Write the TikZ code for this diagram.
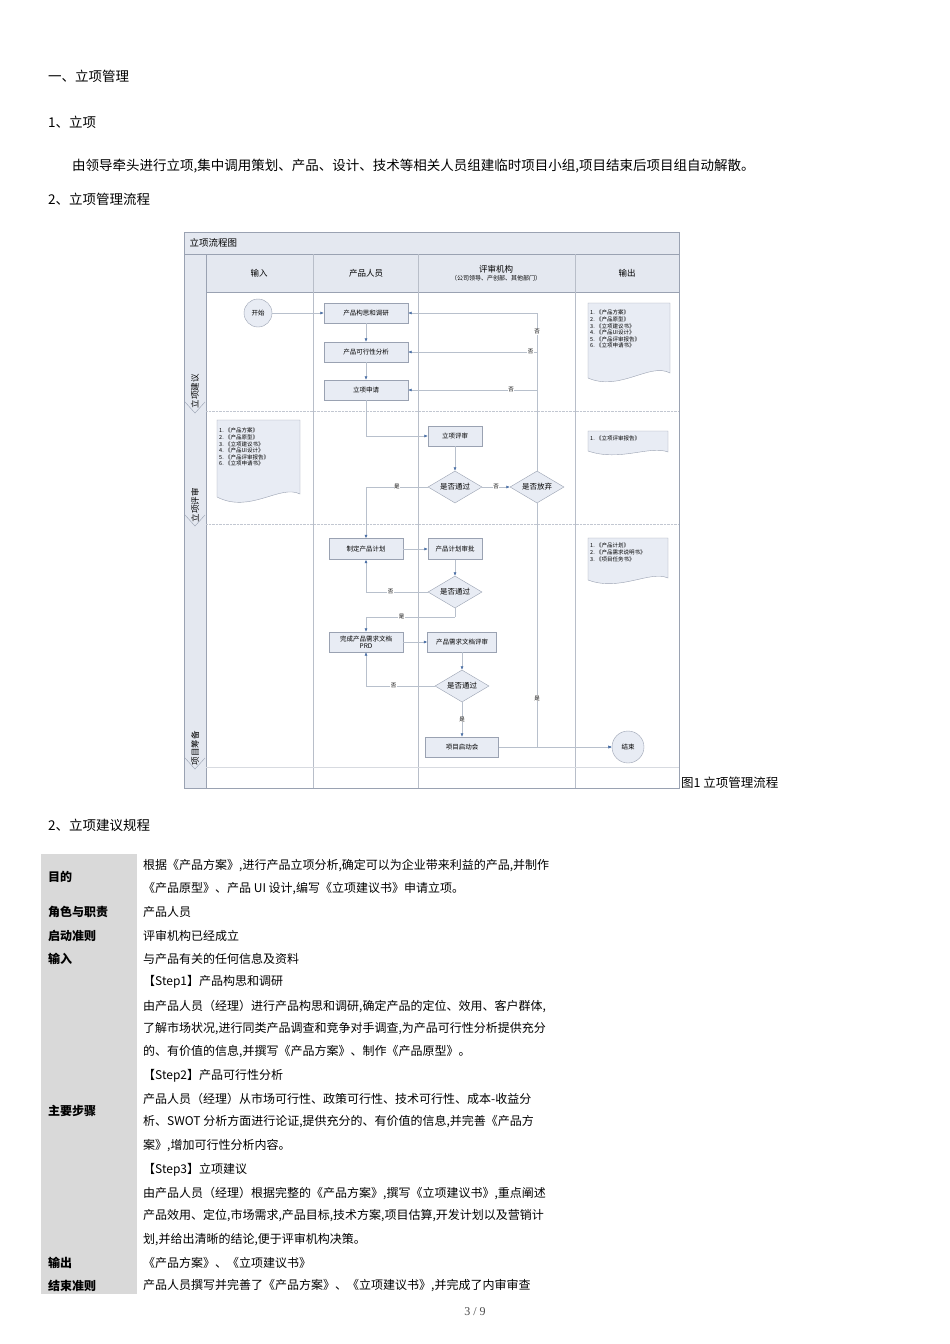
\documentclass[tikz,border=0pt]{standalone}
\usepackage{fontspec}
\setmainfont{Noto Sans CJK SC}
\newfontfamily\pgfont{Liberation Serif}
\usetikzlibrary{arrows.meta,shapes.geometric}
\definecolor{boxfill}{HTML}{E8ECF4}
\definecolor{boxdraw}{HTML}{9AA2B2}
\definecolor{lanefill}{HTML}{E4E8F0}
\definecolor{edgec}{HTML}{B8C0CC}
\definecolor{tipc}{HTML}{4A6FA5}
\definecolor{tabgray}{HTML}{D9D9D9}
\tikzset{
 body/.style={anchor=west,inner sep=0pt,font=\fontsize{13.5}{15}\selectfont},
 pbox/.style={draw=boxdraw,fill=boxfill,inner sep=1pt,font=\fontsize{6.5}{7.5}\selectfont,align=center},
 dia/.style={diamond,draw=boxdraw,fill=boxfill,aspect=1.7,inner sep=0.5pt,font=\fontsize{7.5}{8}\selectfont,minimum width=54pt,minimum height=32pt},
 circ/.style={circle,draw=boxdraw,fill=boxfill,font=\fontsize{6.5}{7}\selectfont},
 edge/.style={draw=edgec,line width=0.5pt},
 arr/.style={edge,-{Latex[length=3.5pt,width=3pt,color=tipc]}},
 lbl/.style={font=\fontsize{5.5}{6}\selectfont,inner sep=0.5pt,fill=white},
 doctxt/.style={anchor=north west,align=left,inner sep=0pt,font=\fontsize{5.5}{6.6}\selectfont},
 hdr/.style={font=\fontsize{8.5}{9}\selectfont,align=center},
 lane/.style={rotate=90,font=\fontsize{8.5}{9}\selectfont},
 tlab/.style={anchor=west,inner sep=0pt,font=\bfseries\fontsize{12}{14}\selectfont},
}
\begin{document}
\begin{tikzpicture}[x=1pt,y=-1pt]
\useasboundingbox (0,0) rectangle (950,1344);
\fill[white] (0,0) rectangle (950,1344);
% headings
\node[body] (h1) at (48,76) {一、立项管理};
\node[body] (h2) at (48,122) {1、立项};
\node[body] (p1) at (72,166) {由领导牵头进行立项,集中调用策划、产品、设计、技术等相关人员组建临时项目小组,项目结束后项目组自动解散。};
\node[body] (h3) at (48,199) {2、立项管理流程};
% flowchart frame
\fill[lanefill] (184,232) rectangle (679,254);
\fill[lanefill] (184,254) rectangle (206,788);
\fill[lanefill] (206,254) rectangle (679,292);
\draw[boxdraw] (184,232) rectangle (679,788);
\draw[boxdraw] (184,254) -- (679,254);
\draw[boxdraw] (206,292) -- (679,292);
\draw[boxdraw] (206,254) -- (206,788);
\foreach \x in {313,418,575} \draw[boxdraw!70] (\x,254) -- (\x,788);
\draw[boxdraw!60,densely dotted] (206,411) -- (679,411);
\draw[boxdraw!60,densely dotted] (206,524) -- (679,524);
\draw[boxdraw!40] (206,767) -- (679,767);
\node[anchor=west,font=\fontsize{9.5}{10}\selectfont] (ftitle) at (186,243) {立项流程图};
\node[hdr] (c1) at (259,273) {输入};
\node[hdr] (c2) at (366,273) {产品人员};
\node[hdr] (c3) at (496,273) {评审机构\\[-1pt]{\fontsize{6}{7}\selectfont （公司领导、产创部、其他部门）}};
\node[hdr] (c4) at (627,273) {输出};
\node[lane] (l1) at (195,391) {立项建议};
\node[lane] (l2) at (195,505) {立项评审};
\node[lane] (l3) at (195,748) {项目筹备};
\foreach \y in {413,526,769} \draw[boxdraw] (185,\y-11) -- (195,\y) -- (205,\y-11);
% nodes
\node[circ,minimum size=28pt] (start) at (258,313) {开始};
\node[pbox,minimum width=84pt,minimum height=20pt] (n1) at (366,313) {产品构思和调研};
\node[pbox,minimum width=84pt,minimum height=20pt] (n2) at (366,352) {产品可行性分析};
\node[pbox,minimum width=84pt,minimum height=20pt] (n3) at (366,390) {立项申请};
\node[pbox,minimum width=54pt,minimum height=20pt] (r1) at (455,436) {立项评审};
\node[dia] (d1) at (455,487) {是否通过};
\node[dia] (d2) at (537,487) {是否放弃};
\node[pbox,minimum width=74pt,minimum height=21pt] (n4) at (366,549) {制定产品计划};
\node[pbox,minimum width=54pt,minimum height=21pt] (r2) at (455,549) {产品计划审批};
\node[dia] (d3) at (455,592) {是否通过};
\node[pbox,minimum width=74pt,minimum height=20pt,font=\fontsize{6.5}{7}\selectfont] (n5) at (366,642) {完成产品需求文档\\PRD};
\node[pbox,minimum width=69pt,minimum height=20pt] (r3) at (462,642) {产品需求文档评审};
\node[dia] (d4) at (462,686) {是否通过};
\node[pbox,minimum width=73pt,minimum height=20pt] (r4) at (462,747) {项目启动会};
\node[circ,minimum size=32pt] (end) at (628,747) {结束};
% documents
\draw[boxdraw,fill=boxfill] (588,303) -- (670,303) -- (670,373) .. controls (650,362) and (620,392) .. (588,378) -- cycle;
\node[doctxt] (o1) at (590,310) {1.\ 《产品方案》\\2.\ 《产品原型》\\3.\ 《立项建议书》\\4.\ 《产品UI设计》\\5.\ 《产品评审报告》\\6.\ 《立项申请书》};
\draw[boxdraw,fill=boxfill] (217,420) -- (300,420) -- (300,494) .. controls (280,484) and (250,514) .. (217,497) -- cycle;
\node[doctxt] (i1) at (219,428) {1.\ 《产品方案》\\2.\ 《产品原型》\\3.\ 《立项建议书》\\4.\ 《产品UI设计》\\5.\ 《产品评审报告》\\6.\ 《立项申请书》};
\draw[boxdraw,fill=boxfill] (588,431) -- (668,431) -- (668,452) .. controls (650,445) and (620,462) .. (588,451) -- cycle;
\node[doctxt] (o2) at (590,436) {1.\ 《立项评审报告》};
\draw[boxdraw,fill=boxfill] (588,538) -- (668,538) -- (668,578) .. controls (650,570) and (620,592) .. (588,580) -- cycle;
\node[doctxt] (o3) at (590,543) {1.\ 《产品计划》\\2.\ 《产品需求说明书》\\3.\ 《项目任务书》};
% edges
\draw[arr] (start) -- (n1);
\draw[arr] (n1) -- (n2);
\draw[arr] (n2) -- (n3);
\draw[arr] (n3.south) |- (r1.west);
\draw[arr] (r1) -- (d1);
\draw[arr] (d1) -- node[lbl]{否} (d2);
\draw[arr] (d1.west) -| node[lbl,pos=0.25]{是} (n4.north);
\draw[arr] (d2.north) |- node[lbl,pos=0.44]{否} (n1.east);
\coordinate (v2) at (537,352);
\coordinate (v3) at (537,390);
\draw[arr] (v2) -- node[lbl,pos=0.05]{否} (n2.east);
\draw[arr] (v3) -- node[lbl,pos=0.2]{否} (n3.east);
\draw[arr] (d2.south) |- node[lbl,pos=0.4]{是} (end.west);
\draw[arr] (r4) -- (end);
\draw[arr] (n4) -- (r2);
\draw[arr] (r2) -- (d3);
\draw[arr] (d3.west) -| node[lbl,pos=0.3]{否} (n4.south);
\coordinate (j1) at (455,617);
\draw[edge] (d3.south) -- (j1);
\draw[arr] (j1) -| node[lbl,pos=0.3]{是} (n5.north);
\draw[arr] (n5) -- (r3);
\draw[arr] (r3) -- (d4);
\draw[arr] (d4.west) -| node[lbl,pos=0.3]{否} (n5.south);
\draw[arr] (d4) -- node[lbl]{是} (r4);
\node[anchor=west,inner sep=0pt,font=\fontsize{12.5}{14}\selectfont] (cap) at (681,783) {图1 立项管理流程};
\node[body] (h4) at (48,825) {2、立项建议规程};
% table
\fill[tabgray] (41,854) rectangle (137,1294);
\node[tlab] (a1) at (48,877) {目的};
\node[tlab] (a2) at (48,912) {角色与职责};
\node[tlab] (a3) at (48,936) {启动准则};
\node[tlab] (a4) at (48,959) {输入};
\node[tlab] (a5) at (48,1111) {主要步骤};
\node[tlab] (a6) at (48,1263) {输出};
\node[tlab] (a7) at (48,1286) {结束准则};
\tikzset{tb/.style={anchor=west,inner sep=0pt,font=\fontsize{12}{14}\selectfont}}
\node[tb] (b1) at (143,866) {根据《产品方案》,进行产品立项分析,确定可以为企业带来利益的产品,并制作};
\node[tb] (b2) at (143,889) {《产品原型》、产品 UI 设计,编写《立项建议书》申请立项。};
\node[tb] (b3) at (143,912) {产品人员};
\node[tb] (b4) at (143,936) {评审机构已经成立};
\node[tb] (b5) at (143,959) {与产品有关的任何信息及资料};
\node[tb] (b6) at (143,982) {【Step1】产品构思和调研};
\node[tb] (b7) at (143,1006) {由产品人员（经理）进行产品构思和调研,确定产品的定位、效用、客户群体,};
\node[tb] (b8) at (143,1029) {了解市场状况,进行同类产品调查和竞争对手调查,为产品可行性分析提供充分};
\node[tb] (b9) at (143,1052) {的、有价值的信息,并撰写《产品方案》、制作《产品原型》。};
\node[tb] (b10) at (143,1076) {【Step2】产品可行性分析};
\node[tb] (b11) at (143,1099) {产品人员（经理）从市场可行性、政策可行性、技术可行性、成本-收益分};
\node[tb] (b12) at (143,1122) {析、SWOT 分析方面进行论证,提供充分的、有价值的信息,并完善《产品方};
\node[tb] (b13) at (143,1146) {案》,增加可行性分析内容。};
\node[tb] (b14) at (143,1170) {【Step3】立项建议};
\node[tb] (b15) at (143,1193) {由产品人员（经理）根据完整的《产品方案》,撰写《立项建议书》,重点阐述};
\node[tb] (b16) at (143,1216) {产品效用、定位,市场需求,产品目标,技术方案,项目估算,开发计划以及营销计};
\node[tb] (b17) at (143,1240) {划,并给出清晰的结论,便于评审机构决策。};
\node[tb] (b18) at (143,1263) {《产品方案》、《立项建议书》};
\node[tb] (b19) at (143,1286) {产品人员撰写并完善了《产品方案》、《立项建议书》,并完成了内审审查};
\node[font=\pgfont\fontsize{12}{14}\selectfont,text=black!70] (pg) at (475,1312) {3 / 9};
\end{tikzpicture}
\end{document}
